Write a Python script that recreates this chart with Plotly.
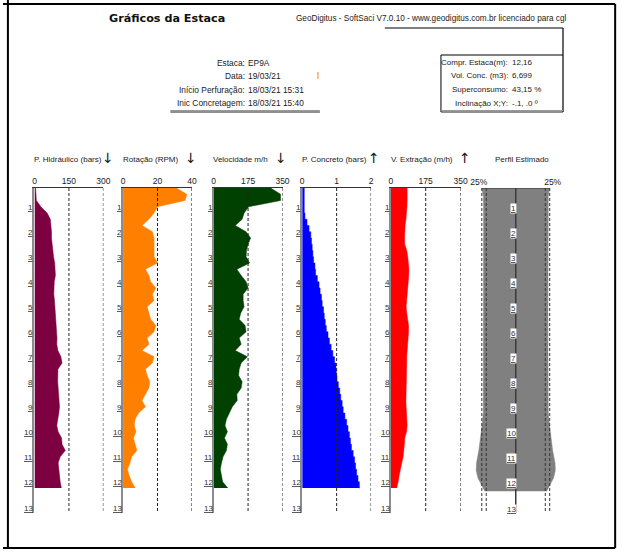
import plotly.graph_objects as go

W, H = 632, 560

# ---------------- data ----------------
depth = [0, 0.25, 0.5, 0.75, 1, 1.25, 1.5, 1.75, 2, 2.25, 2.5, 2.75, 3, 3.25, 3.5, 3.75,
         4, 4.25, 4.5, 4.75, 5, 5.25, 5.5, 5.75, 6, 6.25, 6.5, 6.75, 7, 7.25, 7.5, 7.75,
         8, 8.25, 8.5, 8.75, 9, 9.25, 9.5, 9.75, 10, 10.25, 10.5, 10.75, 11, 11.25, 11.5,
         11.75, 12]

pressao_hidraulica = [5, 5, 8, 28, 55, 69, 72, 74, 74, 76, 80, 83, 88, 91, 91, 86, 84, 84,
                      87, 89, 90, 92, 96, 99, 98, 97, 102, 115, 120, 102, 100, 101, 103, 105,
                      107, 109, 106, 100, 97, 103, 118, 120, 134, 112, 103, 106, 108, 112, 117]

rotacao = [31, 37, 36, 20, 18, 15, 11, 17, 18, 18, 18, 18, 20, 13, 15, 16, 19, 17, 18, 14,
           15, 16, 19, 18, 14, 15, 11, 18, 17, 13, 14, 15.5, 15, 13, 11, 13, 9, 7, 6.5, 7.5,
           6, 7, 8, 5, 4, 2.5, 3.5, 5, 7]

velocidade = [290, 340, 340, 178, 155, 145, 110, 165, 188, 175, 167, 165, 183, 118, 140, 165,
              175, 150, 150, 155, 138, 130, 160, 165, 130, 140, 110, 172, 140, 130, 127, 145,
              140, 118, 120, 95, 80, 65, 58, 70, 55, 70, 65, 48, 40, 34, 40, 46, 72]

pressao_concreto = [0.06, 0.06, 0.06, 0.06, 0.08, 0.14, 0.2, 0.25, 0.27, 0.29, 0.31, 0.33,
                    0.37, 0.39, 0.44, 0.49, 0.52, 0.56, 0.58, 0.62, 0.64, 0.67, 0.7, 0.75,
                    0.79, 0.84, 0.89, 0.94, 0.98, 0.99, 1.01, 1.05, 1.09, 1.12, 1.16, 1.19,
                    1.24, 1.29, 1.33, 1.37, 1.4, 1.43, 1.48, 1.52, 1.55, 1.58, 1.62, 1.66, 1.68]

velocidade_extracao = [82, 83, 82, 81, 80, 76, 72, 69, 69, 70, 80, 85, 88, 91, 90, 87, 85, 82,
                       78, 77, 80, 84, 89, 89, 86, 83, 80, 80, 80, 79, 80, 78, 77, 76, 76, 77,
                       79, 81, 82, 79, 70, 68, 65, 62, 55, 47, 42, 37, 30]

perfil_depth = [0, 0.3, 1, 2, 3, 4, 5, 6, 7, 8, 9, 9.5, 10, 10.5, 11, 11.3, 11.6, 11.85, 12.0, 12.12]
perfil_raio = [1.15, 1.10, 1.09, 1.09, 1.09, 1.09, 1.09, 1.09, 1.09, 1.09, 1.10, 1.14, 1.19,
               1.25, 1.33, 1.34, 1.28, 1.18, 1.10, 1.05]

depth_ticks = [1, 2, 3, 4, 5, 6, 7, 8, 9, 10, 11, 12, 13]

ticks_hidraulico = [0, 150, 300]
ticks_rotacao = [0, 20, 40]
ticks_velocidade = [0, 175, 350]
ticks_concreto = [0, 1, 2]
ticks_extracao = [0, 175, 350]
ticks_perfil = [-1.25, 1.25]
ticktext_perfil = ["25%", "25%"]
perfil_guias = [-1.15, -1.0, 1.0, 1.15]

titulos = ["P. Hidráulico (bars)", "Rotação (RPM)", "Velocidade m/h",
           "P. Concreto (bars)", "V. Extração (m/h)"]
setas = ["↓", "↓", "↓", "↑", "↑"]
titulo_perfil = "Perfil Estimado"

info_esq_labels = ["Estaca:", "Data:", "Início Perfuração:", "Inic Concretagem:"]
info_esq_vals = ["EP9A", "19/03/21", "18/03/21 15:31", "18/03/21 15:40"]
info_dir_labels = ["Compr. Estaca(m):", "Vol. Conc. (m3):", "Superconsumo:", "Inclinação X;Y:"]
info_dir_vals = ["12,16", "6,699", "43,15 %", "-.1, .0 º"]

titulo = "Gráficos da Estaca"
subtitulo = "GeoDigitus - SoftSaci V7.0.10 - www.geodigitus.com.br licenciado para cgl"

# ---------------- layout helpers ----------------
FONT = "Liberation Sans, Arial, sans-serif"
TXT = "#1a1a1a"
PAD = 2  # compensation for annotation box padding


def X(px):
    return px / W


def Y(py):
    return 1 - py / H


Y_TOP, Y_BOT = 188, 513  # pixel rows of depth 0 and depth 13

panels = [
    dict(vals=pressao_hidraulica, color="#7d0040", rng=[0, 300], ticks=ticks_hidraulico,
         px0=32, px1=102, shape="linear", title_x=32, arrow_x=107),
    dict(vals=rotacao, color="#ff8000", rng=[0, 40], ticks=ticks_rotacao,
         px0=122, px1=192, shape="linear", title_x=122, arrow_x=191),
    dict(vals=velocidade, color="#004000", rng=[0, 350], ticks=ticks_velocidade,
         px0=214, px1=284, shape="linear", title_x=213, arrow_x=282),
    dict(vals=pressao_concreto, color="#0000ff", rng=[0, 2], ticks=ticks_concreto,
         px0=304, px1=374, shape="vh", title_x=304, arrow_x=377),
    dict(vals=velocidade_extracao, color="#ff0000", rng=[0, 350], ticks=ticks_extracao,
         px0=394, px1=465, shape="linear", title_x=394, arrow_x=469.5),
]

fig = go.Figure()
layout = dict(
    width=W, height=H, margin=dict(l=0, r=0, t=0, b=0),
    paper_bgcolor="white", plot_bgcolor="rgba(0,0,0,0)", showlegend=False,
    font=dict(family=FONT, size=8, color=TXT),
)
shapes = []
annotations = []
dash = "3px,2px"
GRID = "#222"

ydom = [Y(Y_BOT), Y(Y_TOP)]


def text(x, y, s, anchor="left", size=8, **kw):
    shift = {"left": -PAD, "right": PAD, "center": 0}[anchor]
    d = dict(xref="paper", yref="paper", x=X(x), y=Y(y), text=s, showarrow=False,
             xanchor=anchor, yanchor="middle", xshift=shift,
             font=dict(size=size, color=kw.pop("color", TXT), family=kw.pop("family", FONT)))
    d.update(kw)
    annotations.append(d)


for i, p in enumerate(panels):
    n = i + 1
    sfx = "" if n == 1 else str(n)
    xref, yref = "x" + sfx, "y" + sfx
    fig.add_trace(go.Scatter(
        x=p["vals"], y=depth, xaxis=xref, yaxis=yref, mode="lines",
        fill="tozerox", fillcolor=p["color"],
        line=dict(color=p["color"], width=0.5, shape=p["shape"]), hoverinfo="skip"))
    layout["xaxis" + sfx] = dict(
        domain=[X(p["px0"]), X(p["px1"])], range=p["rng"], anchor=yref, side="top",
        showline=True, linecolor="#333", linewidth=1, ticks="", showgrid=False,
        zeroline=False, tickvals=p["ticks"], ticktext=[str(t) for t in p["ticks"]],
        tickfont=dict(size=8.5, color=TXT), fixedrange=True)
    layout["yaxis" + sfx] = dict(
        domain=ydom, range=[13, 0], anchor=xref, showline=True, linecolor="#8c8c8c",
        linewidth=2, ticks="", showticklabels=False, showgrid=False, zeroline=False,
        fixedrange=True)
    for g in p["ticks"][1:]:
        shapes.append(dict(type="line", xref=xref, yref=yref, x0=g, x1=g, y0=0, y1=13,
                           line=dict(color=GRID, width=1, dash=dash)))
    for d in depth_ticks:
        annotations.append(dict(xref=xref, yref=yref, x=0, y=d, text="<u>%d</u>" % d,
                                showarrow=False, xanchor="right", yanchor="bottom",
                                xshift=1, yshift=-1.5, font=dict(size=8, color="#333")))
    text(p["title_x"], 159, titulos[i])
    text(p["arrow_x"], 158, setas[i], anchor="center", size=14, family="DejaVu Sans")

# ---- Perfil estimado panel ----
xref, yref = "x6", "y6"
fig.add_trace(go.Scatter(
    x=[-r for r in perfil_raio] + [r for r in reversed(perfil_raio)],
    y=perfil_depth + perfil_depth[::-1], xaxis=xref, yaxis=yref, mode="lines",
    fill="toself", fillcolor="#808080", line=dict(color="#808080", width=0.5),
    hoverinfo="skip"))
layout["xaxis6"] = dict(
    domain=[X(477.5), X(564.5)], range=[-1.45, 1.45], anchor=yref, side="top",
    showline=False, ticks="", showgrid=False, zeroline=False, tickvals=ticks_perfil,
    ticktext=ticktext_perfil, tickfont=dict(size=8.5, color=TXT), fixedrange=True)
layout["yaxis6"] = dict(domain=ydom, range=[13, 0], anchor=xref, showline=False, ticks="",
                        showticklabels=False, showgrid=False, zeroline=False, fixedrange=True)
for g in perfil_guias:
    shapes.append(dict(type="line", xref=xref, yref=yref, x0=g, x1=g, y0=0, y1=13,
                       line=dict(color="#333", width=1, dash=dash)))
shapes.append(dict(type="line", xref=xref, yref=yref, x0=-1.15, x1=1.15, y0=0, y1=0,
                   line=dict(color="#333", width=1)))
shapes.append(dict(type="line", xref=xref, yref=yref, x0=0, x1=0, y0=0, y1=13,
                   line=dict(color="#3a3a3a", width=1.5)))
for d in depth_ticks:
    annotations.append(dict(xref=xref, yref=yref, x=0, y=d, text="<u>%d</u>" % d,
                            showarrow=False, xanchor="right", yanchor="bottom",
                            xshift=1, yshift=-1.5, bgcolor="white", borderpad=0,
                            font=dict(size=8, color="#333")))
text(527.8, 159, titulo_perfil, anchor="center")

# ---- header ----
text(108, 18, "<b>%s</b>" % titulo, size=11.2, family="DejaVu Sans", color="#111")
text(298, 19, subtitulo, size=8.2)
rows_y = [62.5, 76, 89.5, 103]
for lab, val, ry in zip(info_esq_labels, info_esq_vals, rows_y):
    text(246, ry, lab, anchor="right", size=8.4)
    text(248.5, ry, val, size=8.4)
for lab, val, ry in zip(info_dir_labels, info_dir_vals, rows_y):
    text(513, ry, lab, anchor="right", size=8)
    text(517, ry, val, size=8)


def pline(x0, y0, x1, y1, color="black", width=1):
    shapes.append(dict(type="line", xref="paper", yref="paper", x0=X(x0), y0=Y(y0),
                       x1=X(x1), y1=Y(y1), line=dict(color=color, width=width)))


# outer frame
pline(0, 4, 622, 4, width=2)
pline(5, 0, 5, 548, width=2)
pline(622, 4, 622, 548, width=2)
pline(0, 548, 622, 548, width=2)
# left info block underline
pline(170, 110.5, 322, 110.5, color="#999", width=1)
pline(170, 112, 322, 112, color="#222", width=1.2)
pline(320, 72, 320, 79, color="#ff8000", width=1)
# right info box
pline(388, 28, 569, 28, width=1.2)
pline(569, 28, 569, 112, width=1.2)
pline(445, 55, 569, 55, width=1.2)
pline(445, 55, 445, 112, width=1)
pline(445, 110.5, 569, 110.5, color="#999", width=1)
pline(445, 112, 569, 112, color="#222", width=1.2)

layout["shapes"] = shapes
layout["annotations"] = annotations
fig.update_layout(**layout)

fig.write_html("out.html", config={"displayModeBar": False},
               post_script="document.body.style.margin='0px';")
